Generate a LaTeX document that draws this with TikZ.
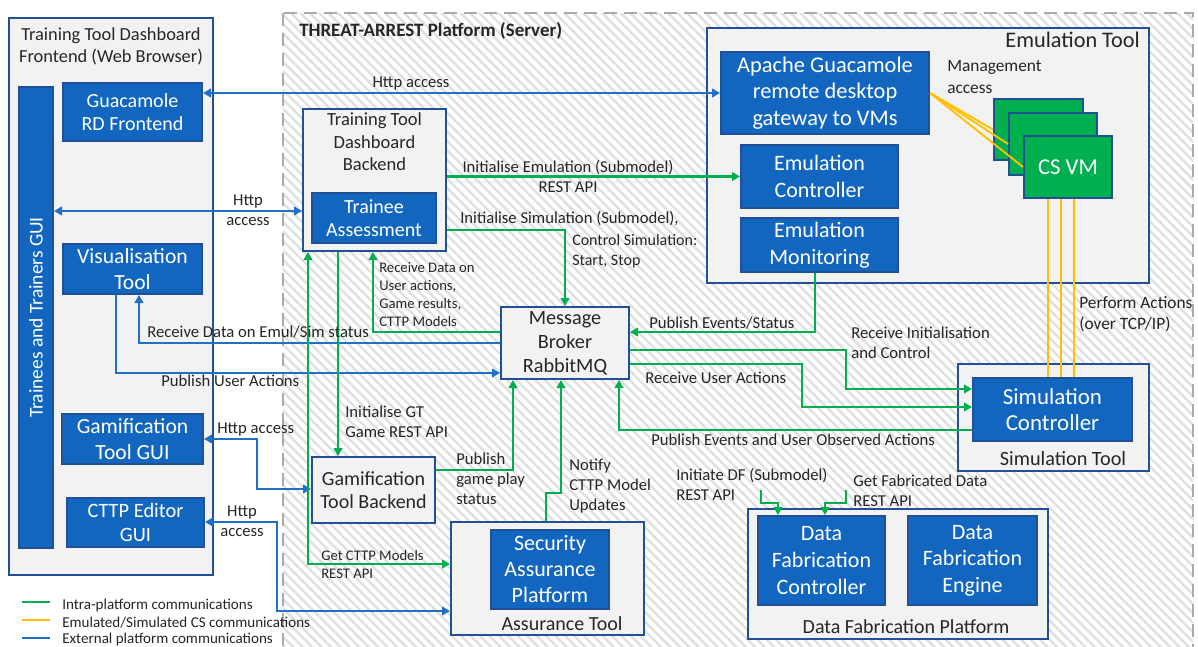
\documentclass[tikz,border=0pt]{standalone}
\usepackage{fontspec}
\setmainfont{Carlito}
\usetikzlibrary{arrows.meta,fit,patterns.meta}

\definecolor{boxblue}{RGB}{18,102,192}
\definecolor{edgeblue}{RGB}{33,80,150}
\definecolor{lightfill}{RGB}{242,242,242}
\definecolor{lblue}{RGB}{30,112,200}
\definecolor{lgreen}{RGB}{0,176,80}
\definecolor{lyellow}{RGB}{255,192,0}
\definecolor{srvgray}{RGB}{170,170,170}
\definecolor{hatchgray}{RGB}{224,224,224}
\definecolor{txt}{RGB}{38,38,38}

% font size helper: size, line skip (pt)
\newcommand\fsz[2]{\fontsize{#1}{#2}\selectfont}

\tikzset{
  lightbox/.style={draw=edgeblue, line width=1.5pt, fill=lightfill, inner sep=0pt},
  bluebox/.style={draw=edgeblue, line width=1.5pt, fill=boxblue, inner sep=0pt},
  vmbox/.style={draw=edgeblue, line width=1.5pt, fill=lgreen, inner sep=0pt},
  whitetext/.style={text=white, align=center, inner sep=0pt},
  darktext/.style={text=txt, align=center, inner sep=0pt},
  gline/.style={draw=lgreen, line width=1.6pt},
  bline/.style={draw=lblue, line width=1.6pt},
  yline/.style={draw=lyellow, line width=1.4pt},
  arrowend/.style={-{Triangle[length=6pt,width=6.5pt]}},
  arrowboth/.style={{Triangle[length=6pt,width=6.5pt]}-{Triangle[length=6pt,width=6.5pt]}},
  lbl/.style={font=\fsz{12.5}{15}, align=left, inner sep=0pt, text=txt},
}

\begin{document}
\begin{tikzpicture}[x=0.75pt,y=-0.75pt]
\useasboundingbox (0,0) rectangle (1198,646);
\fill[white] (0,0) rectangle (1198,646);

% ---------- server area: hatched, dashed outline ----------
\path[pattern={Lines[angle=-45,distance=5pt,line width=1.8pt]}, pattern color=hatchgray]
  (283,13) rectangle (1193,690);
\draw[srvgray, line width=2.2pt, dash pattern=on 10pt off 5pt] (283,13) rectangle (1193,690);
\node[anchor=west, font=\fsz{14.2}{17}\bfseries, text=txt, inner sep=0pt] (srvtitle) at (299,31) {THREAT-ARREST Platform (Server)};

% ---------- browser frontend ----------
\node[lightbox, fit={(9,18)(213,575)}] (fe) {};
\node[darktext, font=\fsz{13.8}{16.5}] (fetitle) at (111,46) {Training Tool Dashboard\\Frontend (Web Browser)};
\node[bluebox, fit={(19,87)(53,548)}] (guibar) {};
\node[whitetext, rotate=90, font=\fsz{14.6}{17}] (guitext) at (guibar.center) {Trainees and Trainers GUI};
\node[bluebox, fit={(63,83)(202,141)}] (guac) {};
\node[whitetext, font=\fsz{15}{17.5}] (guacT) at (guac.center) {Guacamole\\RD Frontend};
\node[bluebox, fit={(63,244)(202,294)}] (vis) {};
\node[whitetext, font=\fsz{16.2}{20}] (visT) at (vis.center) {Visualisation\\Tool};
\node[bluebox, fit={(62,414)(203,464)}] (gamgui) {};
\node[whitetext, font=\fsz{16.2}{19}] (gamguiT) at (gamgui.center) {Gamification\\Tool GUI};
\node[bluebox, fit={(67,498)(204,547)}] (cttpgui) {};
\node[whitetext, font=\fsz{15.3}{17.5}] (cttpguiT) at (cttpgui.center) {CTTP Editor\\GUI};

% ---------- dashboard backend ----------
\node[lightbox, fit={(303,109)(446,251)}] (ttback) {};
\node[darktext, font=\fsz{13.9}{16.8}] (ttbtitle) at (374.5,142) {Training Tool\\Dashboard\\Backend};
\node[bluebox, fit={(312,193)(436,243)}] (trainee) {};
\node[whitetext, font=\fsz{15}{17.5}] (traineeT) at (trainee.center) {Trainee\\Assessment};

% ---------- emulation tool ----------
\node[lightbox, fit={(707,28)(1149,283)}] (emtool) {};
\node[darktext, font=\fsz{16.7}{19}, anchor=east] (emtitle) at (1140,40) {Emulation Tool};
\node[bluebox, fit={(721,52)(929,134)}] (apache) {};
\node[whitetext, font=\fsz{16.8}{20}] (apacheT) at (apache.center) {Apache Guacamole\\remote desktop\\gateway to VMs};
\node[bluebox, fit={(741,145)(898,208)}] (emctl) {};
\node[whitetext, font=\fsz{16.5}{20}] (emctlT) at (emctl.center) {Emulation\\Controller};
\node[bluebox, fit={(741,218)(898,272)}] (emmon) {};
\node[whitetext, font=\fsz{16.5}{20}] (emmonT) at (emmon.center) {Emulation\\Monitoring};
\node[vmbox, fit={(994,99)(1083,160)}] (vm1) {};
\node[vmbox, fit={(1009,113)(1097,175)}] (vm2) {};
\node[vmbox, fit={(1024,136)(1112,198)}] (vm3) {};
\node[whitetext, font=\fsz{17}{20}] (vmT) at (vm3.center) {CS VM};

% ---------- simulation tool ----------
\node[lightbox, fit={(958,364)(1149,471)}] (simtool) {};
\node[darktext, font=\fsz{15.2}{17}] (simtitle) at (1063,459) {Simulation Tool};
\node[bluebox, fit={(973,378)(1132,441)}] (simctl) {};
\node[whitetext, font=\fsz{17.2}{19.5}] (simctlT) at (simctl.center) {Simulation\\Controller};

% ---------- message broker ----------
\node[lightbox, fit={(501,307)(629,379)}] (broker) {};
\node[darktext, font=\fsz{15.2}{18}] (brokerT) at (broker.center) {Message\\Broker\\RabbitMQ};

% ---------- gamification backend ----------
\node[lightbox, fit={(312,457)(435,523)}] (gamback) {};
\node[darktext, font=\fsz{15}{17.5}] (gambackT) at (gamback.center) {Gamification\\Tool Backend};

% ---------- assurance tool ----------
\node[lightbox, fit={(451,522)(644,635)}] (asstool) {};
\node[darktext, font=\fsz{15}{17}] (asstitle) at (562,624) {Assurance Tool};
\node[bluebox, fit={(491,530)(609,609)}] (sap) {};
\node[whitetext, font=\fsz{16.5}{19.5}] (sapT) at (sap.center) {Security\\Assurance\\Platform};

% ---------- data fabrication platform ----------
\node[lightbox, fit={(748,509)(1048,639)}] (dfp) {};
\node[darktext, font=\fsz{15}{17}] (dfptitle) at (906,627) {Data Fabrication Platform};
\node[bluebox, fit={(758,516)(885,605)}] (dfc) {};
\node[whitetext, font=\fsz{16.5}{20}] (dfcT) at (dfc.center) {Data\\Fabrication\\Controller};
\node[bluebox, fit={(908,516)(1037,605)}] (dfe) {};
\node[whitetext, font=\fsz{16.5}{20}] (dfeT) at (dfe.center) {Data\\Fabrication\\Engine};

% ---------- bend points of the connectors ----------
\coordinate (kTrn) at (0,211);
\coordinate (kInitSim) at (565,230);
\coordinate (kRecv) at (373,332);
\coordinate (kMon) at (815,332);
\coordinate (kIniA) at (846,350);
\coordinate (kIniB) at (846,389);
\coordinate (kUsrA) at (802,364);
\coordinate (kUsrB) at (802,407);
\coordinate (kPub) at (619,430);
\coordinate (kGame) at (513,470);
\coordinate (kNotA) at (546,493);
\coordinate (kNotB) at (561,493);
\coordinate (kCttp) at (308,564);
\coordinate (kGT) at (338,0);
\coordinate (kVis) at (139,343);
\coordinate (kUA) at (116,373);
\coordinate (kHgA) at (257,439);
\coordinate (kHgB) at (257,489);
\coordinate (kHcA) at (277,522);
\coordinate (kHcB) at (277,611);
\coordinate (kDfA) at (761,490);
\coordinate (kDfB) at (778,503);
\coordinate (kFbA) at (846,490);
\coordinate (kFbB) at (825,503);

% ---------- external (blue) connectors ----------
\draw[bline, arrowboth] (guac.east |- apache.west) -- (apache.west);
\draw[bline, arrowboth] (guibar.east |- kTrn) -- (ttback.west |- kTrn);
\draw[bline, arrowend] (broker.west |- kVis) -- (kVis) -- (kVis |- vis.south);
\draw[bline, arrowend] (vis.south -| kUA) -- (kUA) -- (broker.west |- kUA);
\draw[bline, arrowboth] (gamgui.east |- kHgA) -- (kHgA) -- (kHgB) -- (gamback.west |- kHgB);
\draw[bline, arrowboth] (cttpgui.east |- kHcA) -- (kHcA) -- (kHcB) -- (asstool.west |- kHcB);

% ---------- intra-platform (green) connectors ----------
\draw[gline, arrowend] (ttback.east |- emctl.west) -- (emctl.west);
\draw[gline, arrowend] (ttback.east |- kInitSim) -- (kInitSim) -- (kInitSim |- broker.north);
\draw[gline, arrowend] (broker.west |- kRecv) -- (kRecv) -- (kRecv |- ttback.south);
\draw[gline, arrowend] (emmon.south -| kMon) -- (kMon) -- (broker.east |- kMon);
\draw[gline, arrowend] (broker.east |- kIniA) -- (kIniA) -- (kIniB) -- (simctl.west |- kIniB);
\draw[gline, arrowend] (broker.east |- kUsrA) -- (kUsrA) -- (kUsrB) -- (simctl.west |- kUsrB);
\draw[gline, arrowend] (simctl.west |- kPub) -- (kPub) -- (kPub |- broker.south);
\draw[gline, arrowend] (gamback.east |- kGame) -- (kGame) -- (kGame |- broker.south);
\draw[gline, arrowend] (asstool.north -| kNotA) -- (kNotA) -- (kNotB) -- (kNotB |- broker.south);
\draw[gline, arrowboth] (ttback.south -| kCttp) -- (kCttp) -- (asstool.west |- kCttp);
\draw[gline, arrowend] (ttback.south -| kGT) -- (gamback.north -| kGT);
\draw[gline, arrowend] (kDfA) -- (kDfA |- kDfB) -- (kDfB) -- (kDfB |- dfc.north);
\draw[gline, arrowend] (kFbA) -- (kFbA |- kFbB) -- (kFbB) -- (kFbB |- dfc.north);

% ---------- emulated / simulated CS (yellow) links ----------
\draw[yline] (apache.east) -- (vm1.west);
\draw[yline] (apache.east) -- (vm2.west);
\draw[yline] (apache.east) -- (vm3.west);
\foreach \xx in {1048,1061,1074}
  \draw[yline] (vm3.south -| \xx,0) -- (simctl.north -| \xx,0);

% ---------- connector labels ----------
\node[lbl] (tHttpTop) at (411,83) {Http access};
\node[lbl, align=center] (tHttpTrn) at (248,210) {Http\\access};
\node[lbl, align=center] (tInitEm) at (568,176) {Initialise Emulation (Submodel)\\REST API};
\node[lbl, anchor=west] (tInitSimA) at (460,219) {Initialise Simulation (Submodel),};
\node[lbl, anchor=west, font=\fsz{12}{15}] (tInitSimB) at (572,251) {Control Simulation:\\Start, Stop};
\node[lbl, anchor=west, font=\fsz{11}{13.5}] (tRecvData) at (379,295) {Receive Data on\\User actions,\\Game results,\\CTTP Models};
\node[lbl, anchor=west] (tEmulSim) at (147,332) {Receive Data on Emul/Sim status};
\node[lbl, anchor=west] (tPubUA) at (161,381) {Publish User Actions};
\node[lbl, anchor=west] (tPubEv) at (649,323) {Publish Events/Status};
\node[lbl, anchor=west] (tRecvIni) at (851,343) {Receive Initialisation\\and Control};
\node[lbl, anchor=west] (tRecvUA) at (645,378) {Receive User Actions};
\node[lbl, anchor=west] (tPubObs) at (651,440) {Publish Events and User Observed Actions};
\node[lbl, anchor=west, font=\fsz{13}{16}] (tPerform) at (1079,314) {Perform Actions\\(over TCP/IP)};
\node[lbl, anchor=west, font=\fsz{13}{16.5}] (tMgmt) at (947,77) {Management\\access};
\node[lbl, anchor=west] (tInitGT) at (345,422) {Initialise GT\\Game REST API};
\node[lbl, anchor=west] (tGamePlay) at (456,479) {Publish\\game play\\status};
\node[lbl, anchor=west] (tNotify) at (569,486) {Notify\\CTTP Model\\Updates};
\node[lbl, anchor=west, font=\fsz{11}{13.5}] (tGetCttp) at (321,564) {Get CTTP Models\\REST API};
\node[lbl, anchor=west] (tHttpGam) at (217,429) {Http access};
\node[lbl, align=center] (tHttpCttp) at (242,521) {Http\\access};
\node[lbl, anchor=west] (tInitDF) at (676,484) {Initiate DF (Submodel)\\REST API};
\node[lbl, anchor=west] (tGetFab) at (853,491) {Get Fabricated Data\\REST API};

% ---------- legend ----------
\coordinate (gA) at (22,602); \coordinate (gB) at (50,602);
\coordinate (yA) at (22,620); \coordinate (yB) at (50,620);
\coordinate (bA) at (22,638); \coordinate (bB) at (50,638);
\draw[gline] (gA) -- (gB);
\draw[yline, line width=1.6pt] (yA) -- (yB);
\draw[bline] (bA) -- (bB);
\node[lbl, anchor=west, font=\fsz{11.3}{14}] (legG) at (62,605) {Intra-platform communications};
\node[lbl, anchor=west, font=\fsz{11.3}{14}] (legY) at (62,623) {Emulated/Simulated CS communications};
\node[lbl, anchor=west, font=\fsz{11.3}{14}] (legB) at (62,639.5) {External platform communications};
\end{tikzpicture}
\end{document}
